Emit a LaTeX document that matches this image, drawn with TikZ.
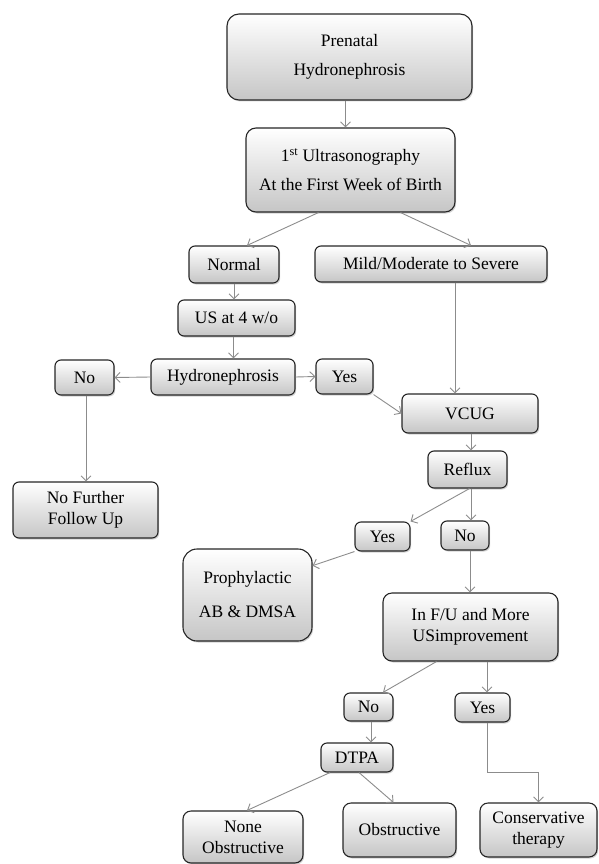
\documentclass[tikz,border=0pt]{standalone}
\usepackage{fontspec}
\setmainfont{Liberation Serif}
\usetikzlibrary{arrows.meta,shadows,calc}
\tikzset{
  box/.style={draw=black!85, line width=1.1pt, rounded corners=6pt,
    top color=white, bottom color=gray!45, align=center, inner sep=0pt,
    drop shadow={shadow xshift=1.2pt, shadow yshift=-1.5pt, opacity=0.35},
    font=\fontsize{17.5}{21}\selectfont},
  arr/.style={draw=black!45, line width=0.9pt, -{Straight Barb[length=5pt,width=10pt]}}
}
\begin{document}
\begin{tikzpicture}[x=1pt,y=-1pt]
\useasboundingbox (0,0) rectangle (598,864);
\node[box, rounded corners=12pt, minimum width=245pt, minimum height=86pt] (pre) at (349.5,57) {Prenatal\\[8pt]Hydronephrosis};
\node[box, rounded corners=10pt, minimum width=209pt, minimum height=84pt] (us1) at (350.5,170) {1\textsuperscript{st} Ultrasonography\\[8pt]At the First Week of Birth};
\node[box, minimum width=90pt, minimum height=37pt] (normal) at (234,264.5) {Normal};
\node[box, minimum width=232pt, minimum height=36pt] (mild) at (431,264) {Mild/Moderate to Severe};
\node[box, minimum width=117pt, minimum height=36pt] (us4) at (236.5,318) {US at 4 w/o};
\node[box, minimum width=144pt, minimum height=36pt] (hyd) at (223,377) {Hydronephrosis};
\node[box, minimum width=59pt, minimum height=35pt] (no1) at (84.5,377.5) {No};
\node[box, minimum width=57pt, minimum height=35pt] (yes1) at (344.5,376.5) {Yes};
\node[box, minimum width=136pt, minimum height=39pt] (vcug) at (470,413.5) {VCUG};
\node[box, minimum width=145pt, minimum height=56pt] (nff) at (85.5,510) {No Further\\Follow Up};
\node[box, minimum width=79pt, minimum height=37pt] (reflux) at (467.5,469.5) {Reflux};
\node[box, minimum width=55pt, minimum height=29pt] (yes2) at (382.5,536.5) {Yes};
\node[box, minimum width=48pt, minimum height=29pt] (no2) at (465,535.5) {No};
\node[box, rounded corners=14pt, minimum width=129pt, minimum height=92pt] (proph) at (247.5,595) {Prophylactic\\[13pt]AB \& DMSA};
\node[box, rounded corners=9pt, minimum width=175pt, minimum height=68pt] (infu) at (470.5,627) {In F/U and More\\USimprovement};
\node[box, minimum width=49pt, minimum height=28pt] (no3) at (368.5,707) {No};
\node[box, minimum width=55pt, minimum height=29pt] (yes3) at (482.5,707.5) {Yes};
\node[box, minimum width=72pt, minimum height=29pt] (dtpa) at (357,757.5) {DTPA};
\node[box, rounded corners=8pt, minimum width=120pt, minimum height=52pt] (none) at (243,837) {None\\Obstructive};
\node[box, rounded corners=8pt, minimum width=113pt, minimum height=54pt] (obs) at (399.5,830) {Obstructive};
\node[box, rounded corners=8pt, minimum width=117pt, minimum height=54pt] (cons) at (538.5,830) {Conservative\\therapy};

\draw[arr] ([xshift=-4pt]pre.south) -- ([xshift=-5pt]us1.north);
\draw[arr] ([xshift=-32pt]us1.south) -- ([xshift=13pt]normal.north);
\draw[arr] ([xshift=50pt]us1.south) -- ([xshift=40pt]mild.north);
\draw[arr] (normal.south) -- (normal.south |- us4.north);
\draw[arr] ([xshift=-3pt]us4.south) -- ([xshift=-3pt]us4.south |- hyd.north);
\draw[arr] (hyd.west) -- (no1.east);
\draw[arr] (hyd.east) -- (yes1.west);
\draw[arr] ([xshift=1.5pt]no1.south) -- ([xshift=1.5pt]no1.south |- nff.north);
\draw[arr] ([xshift=24pt]mild.south) -- ([xshift=24pt]mild.south |- vcug.north);
\draw[arr] (yes1.south east) -- (vcug.west);
\draw[arr] ([xshift=1pt]vcug.south) -- ([xshift=1pt]vcug.south |- reflux.north);
\draw[arr] ([xshift=2pt]reflux.south) -- (yes2.north east);
\draw[arr] ([xshift=3.5pt]reflux.south) -- ([xshift=3.5pt]reflux.south |- no2.north);
\draw[arr] ([xshift=5pt]no2.south) -- ([xshift=5pt]no2.south |- infu.north);
\draw[arr] (yes2.south west) -- ($(proph.north east)!0.185!(proph.south east)$);
\draw[arr] ([xshift=-34pt]infu.south) -- ([xshift=14.5pt]no3.north);
\draw[arr] ([xshift=16.5pt]infu.south) -- ([xshift=16.5pt]infu.south |- yes3.north);
\draw[arr] ([xshift=2.5pt]no3.south) -- ([xshift=2.5pt]no3.south |- dtpa.north);
\draw[arr] ([xshift=-27pt]dtpa.south) -- ([xshift=4pt]none.north);
\draw[arr] ([xshift=2pt]dtpa.south) -- ([xshift=-6pt]obs.north);
\coordinate (bend) at ([xshift=4.5pt,yshift=-50pt]yes3.south);
\draw[arr] ([xshift=4.5pt]yes3.south) -- (bend) -| (cons.north);
\end{tikzpicture}
\end{document}
